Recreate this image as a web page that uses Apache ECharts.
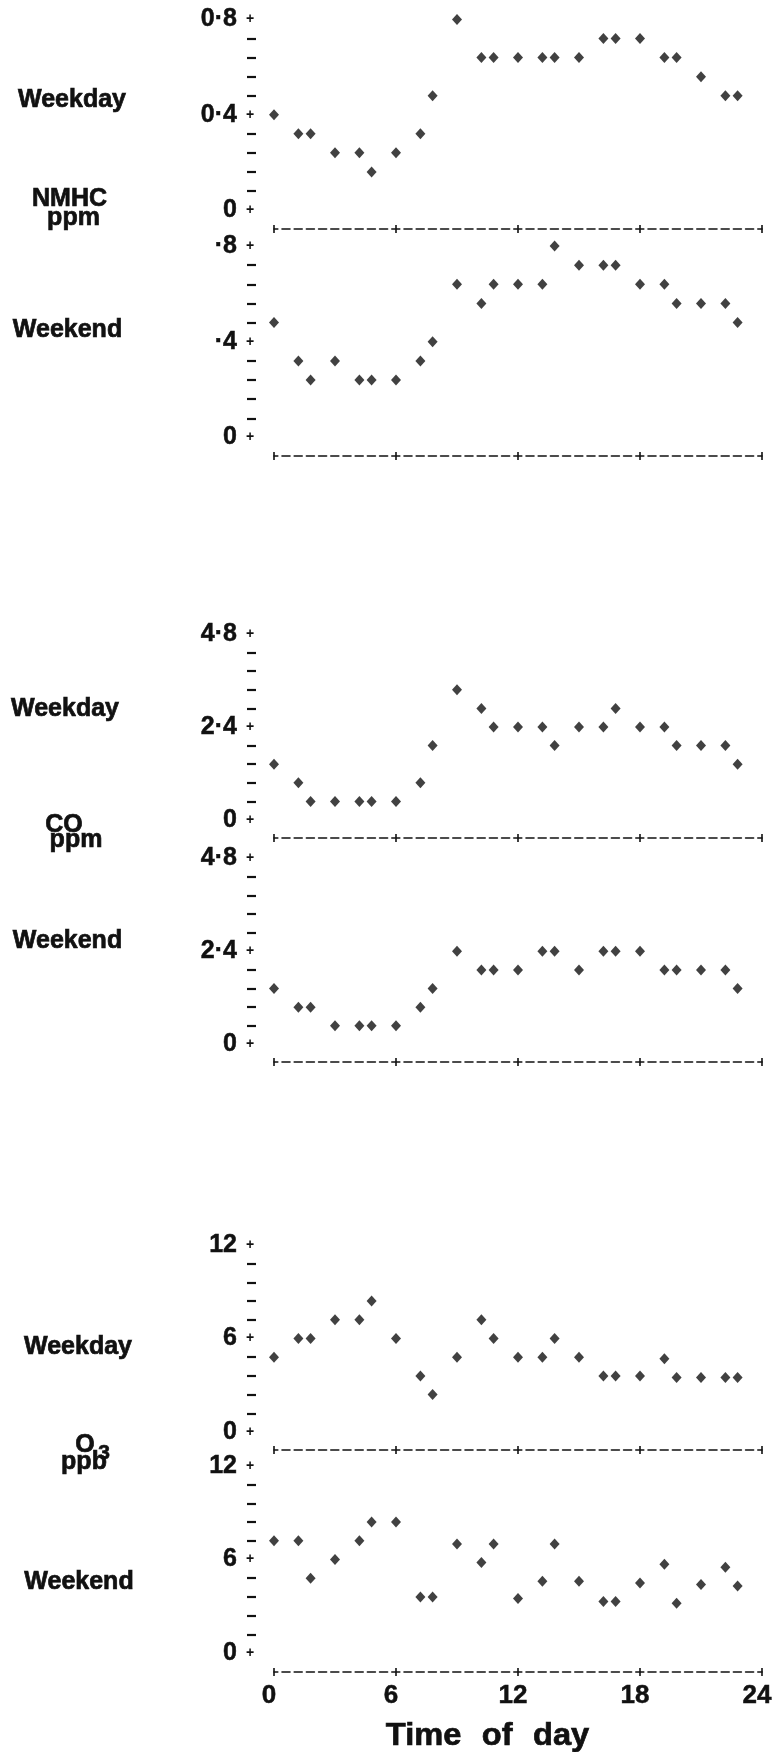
<!DOCTYPE html>
<html><head><meta charset="utf-8">
<script src="https://cdn.jsdelivr.net/npm/echarts@6/dist/echarts.min.js"></script>
<style>html,body{margin:0;padding:0;background:#fff}#c{width:774px;height:1752px}</style>
</head><body><div id="c"></div>
<script>
// Plotted hour positions (line-printer columns) for hourly values 0..23
const hourPos = [0, 1.2, 1.8, 3, 4.2, 4.8, 6, 7.2, 7.8, 9, 10.2, 10.8, 12, 13.2, 13.8, 15, 16.2, 16.8, 18, 19.2, 19.8, 21, 22.2, 22.8];

const nmhcWeekday = [0.40,0.32,0.32,0.24,0.24,0.16,0.24,0.32,0.48,0.80,0.64,0.64,0.64,0.64,0.64,0.64,0.72,0.72,0.72,0.64,0.64,0.56,0.48,0.48];
const nmhcWeekend = [0.48,0.32,0.24,0.32,0.24,0.24,0.24,0.32,0.40,0.64,0.56,0.64,0.64,0.64,0.80,0.72,0.72,0.72,0.64,0.64,0.56,0.56,0.56,0.48];
const coWeekday   = [1.44,0.96,0.48,0.48,0.48,0.48,0.48,0.96,1.92,3.36,2.88,2.40,2.40,2.40,1.92,2.40,2.40,2.88,2.40,2.40,1.92,1.92,1.92,1.44];
const coWeekend   = [1.44,0.96,0.96,0.48,0.48,0.48,0.48,0.96,1.44,2.40,1.92,1.92,1.92,2.40,2.40,1.92,2.40,2.40,2.40,1.92,1.92,1.92,1.92,1.44];
const o3Weekday   = [4.8,6.0,6.0,7.2,7.2,8.4,6.0,3.6,2.4,4.8,7.2,6.0,4.8,4.8,6.0,4.8,3.6,3.6,3.6,4.7,3.5,3.5,3.5,3.5];
const o3Weekend   = [7.2,7.2,4.8,6.0,7.2,8.4,8.4,3.6,3.6,7.0,5.8,7.0,3.5,4.6,7.0,4.6,3.3,3.3,4.5,5.7,3.2,4.4,5.5,4.3];

const nmhcMajor = [0, 0.4, 0.8];
const nmhcWeekdayLabels = ['0', '0·4', '0·8'];
const nmhcWeekendLabels = ['0', '·4', '·8'];
const coMajor = [0, 2.4, 4.8];
const coLabels = ['0', '2·4', '4·8'];
const o3Major = [0, 6, 12];
const o3Labels = ['0', '6', '12'];
const timeTicks = [0, 6, 12, 18, 24];
const timeLabels = ['0', '6', '12', '18', '24'];
const sideTexts = ['Weekday', 'NMHC', 'ppm', 'Weekend', 'Weekday', 'CO', 'ppm', 'Weekend', 'Weekday', 'O', '3', 'ppb', 'Weekend'];
const xTitle = 'Time of day';

// layout (pixels)
const panels = [
  {values: nmhcWeekday, major: nmhcMajor, labels: nmhcWeekdayLabels, top: 19.5, zero: 210, axis: 229},
  {values: nmhcWeekend, major: nmhcMajor, labels: nmhcWeekendLabels, top: 246, zero: 437.5, axis: 456},
  {values: coWeekday, major: coMajor, labels: coLabels, top: 634, zero: 820, axis: 838},
  {values: coWeekend, major: coMajor, labels: coLabels, top: 858, zero: 1044.5, axis: 1062},
  {values: o3Weekday, major: o3Major, labels: o3Labels, top: 1245, zero: 1432, axis: 1450},
  {values: o3Weekend, major: o3Major, labels: o3Labels, top: 1466, zero: 1653, axis: 1672}
];
const sideLayout = [
  [72, 100, 25], [69.5, 199.5, 25], [73.5, 218.5, 25], [67.5, 330.5, 25],
  [65, 709.5, 25], [64, 825.5, 25], [76, 840, 25], [67.5, 941, 25],
  [78, 1347, 25], [85, 1445, 25], [104, 1453, 21], [84, 1462, 25], [79, 1582, 25]
];

const F = '"Liberation Sans", Arial, Helvetica, sans-serif';
const INK = '#111';

const grids = [], xAxes = [], yAxes = [], series = [];
panels.forEach((p, i) => {
  const last = i === panels.length - 1;
  const major = p.major, labels = p.labels;
  // main plotting grid
  const g = grids.length;
  grids.push({left: 274, width: 488, top: p.top, height: p.zero - p.top, containLabel: false, outerBoundsMode: 'none'});
  const xi = xAxes.length;
  xAxes.push({
    gridIndex: g, type: 'value', min: 0, max: 24, interval: 6, position: 'bottom', offset: p.axis - p.zero,
    axisLine: {show: true, onZero: false, lineStyle: {color: INK, width: 1.6, type: [8, 4.2], dashOffset: 4.2}},
    axisTick: {show: true, length: 4, lineStyle: {color: INK, width: 1.6}},
    splitLine: {show: false},
    axisLabel: {show: last, margin: 11, padding: [0, 10, 0, 0], fontSize: 26, fontWeight: 'bold', fontFamily: F, color: INK,
      textBorderColor: INK, textBorderWidth: 0.5,
      formatter: v => { const k = timeTicks.findIndex(t => Math.abs(t - v) < 1e-9); return k < 0 ? '' : timeLabels[k]; }}
  });
  xAxes.push({
    gridIndex: g, type: 'value', min: 0, max: 24, interval: 6, position: 'bottom', offset: p.axis - p.zero,
    axisLine: {show: false, onZero: false},
    axisTick: {show: true, inside: true, length: 4, lineStyle: {color: INK, width: 1.6}},
    splitLine: {show: false}, axisLabel: {show: false}
  });
  const yi = yAxes.length;
  yAxes.push({gridIndex: g, type: 'value', min: major[0], max: major[2], interval: major[1] - major[0], show: false});
  series.push({
    type: 'scatter', xAxisIndex: xi, yAxisIndex: yi,
    symbol: 'diamond', symbolSize: [10, 11],
    itemStyle: {color: INK}, silent: true,
    data: hourPos.map((x, k) => [x, p.values[k]])
  });
  // frame grid carrying the printed y scale (+ and - marks)
  const fg = grids.length;
  grids.push({left: 256, width: 10, top: p.top, height: p.zero - p.top, containLabel: false, outerBoundsMode: 'none'});
  xAxes.push({gridIndex: fg, type: 'value', min: 0, max: 1, show: false});
  yAxes.push({
    gridIndex: fg, type: 'value', min: major[0], max: major[2], interval: major[1] - major[0], position: 'left',
    axisLine: {show: false}, axisTick: {show: false}, splitLine: {show: false},
    minorTick: {show: true, splitNumber: 5, length: 9, lineStyle: {color: INK, width: 2.2}},
    minorSplitLine: {show: false},
    axisLabel: {
      margin: 0,
      formatter: v => { const k = major.findIndex(m => Math.abs(m - v) < 1e-9); return k < 0 ? '' : '{n|' + labels[k] + '}{p|+}'; },
      rich: {
        n: {fontSize: 25, fontWeight: 'bold', fontFamily: F, color: INK, padding: [0, 7, 0, 0], textBorderColor: INK, textBorderWidth: 0.5},
        p: {fontSize: 14, fontWeight: 'bold', fontFamily: F, color: INK, width: 12, align: 'center'}
      }
    }
  });
});

const graphics = sideTexts.map((t, k) => ({
  type: 'text', x: sideLayout[k][0], y: sideLayout[k][1], silent: true,
  style: {text: t, fill: INK, stroke: INK, lineWidth: 0.7, font: 'bold ' + sideLayout[k][2] + 'px ' + F, align: 'center', verticalAlign: 'middle'}
}));
const tw = xTitle.split(' ');
graphics.push({
  type: 'text', x: 487.5, y: 1736, scaleX: 1.02, silent: true,
  style: {
    text: tw.map(w => '{w|' + w + '}').join('{s| }'),
    align: 'center', verticalAlign: 'middle',
    rich: {
      w: {fontSize: 32, fontWeight: 'bold', fontFamily: F, fill: INK, stroke: INK, lineWidth: 0.7},
      s: {fontSize: 32, fontFamily: F, width: 20}
    }
  }
});

const chart = echarts.init(document.getElementById('c'), null, {renderer: 'canvas'});
chart.setOption({
  backgroundColor: '#fff',
  animation: false,
  grid: grids, xAxis: xAxes, yAxis: yAxes, series: series,
  graphic: graphics
});
</script></body></html>
